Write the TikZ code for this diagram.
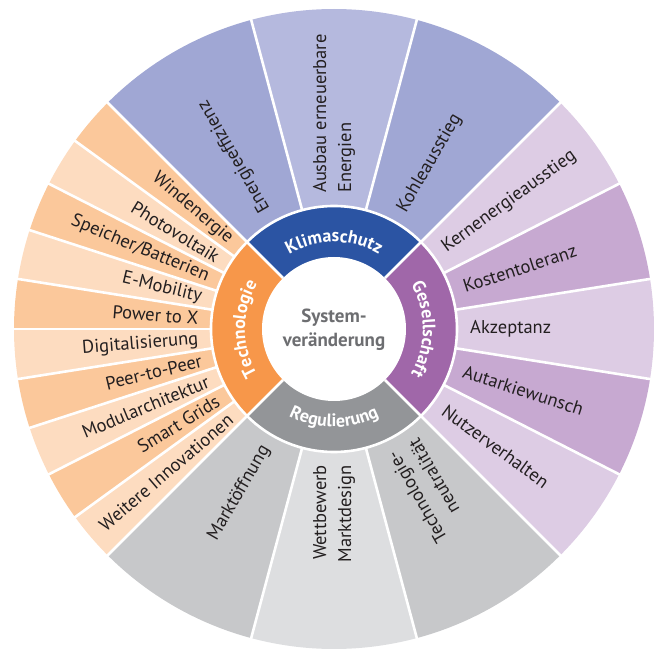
\documentclass[tikz,border=0pt]{standalone}
\usepackage{fontspec}
\setmainfont{PT Sans}
\usetikzlibrary{decorations.text}
\definecolor{klimaDark}{HTML}{2B54A3}
\definecolor{klimaMid}{HTML}{A0A7D4}
\definecolor{klimaLight}{HTML}{B5B9DE}
\definecolor{techDark}{HTML}{F7974A}
\definecolor{techMid}{HTML}{FBC89B}
\definecolor{techLight}{HTML}{FDDCC0}
\definecolor{gesDark}{HTML}{A067A9}
\definecolor{gesMid}{HTML}{C7A9D1}
\definecolor{gesLight}{HTML}{DDCCE4}
\definecolor{regDark}{HTML}{939598}
\definecolor{regMid}{HTML}{C7C8CA}
\definecolor{regLight}{HTML}{DDDEE0}
\definecolor{labeltext}{HTML}{231F20}
\definecolor{sysgray}{HTML}{6D6E71}
\newcommand\catfont{\fontsize{18}{20}\selectfont\bfseries}
\begin{document}
\begin{tikzpicture}[x=1pt,y=1pt,
  sep/.style={white, line width=2.6pt},
  lbl/.style={font=\fontsize{18.5}{25}\selectfont, text=labeltext, inner sep=0pt},
  catlbl/.style={decorate, decoration={text along path, text align=center, text color=white,
     text={|\catfont|#1}}}
]
\def\R{320}
\def\rc{123}
\def\rw{72}
\def\rt{136}
\useasboundingbox (-334,-321) rectangle (327,329);
% ---- outer sectors
\foreach \i in {0,...,9}{
  \pgfmathsetmacro\aa{135+9*\i}
  \pgfmathsetmacro\ab{144+9*\i}
  \pgfmathtruncatemacro\odd{mod(\i,2)}
  \ifnum\odd=0 \def\col{techMid}\else\def\col{techLight}\fi
  \fill[\col] (0,0) -- (\aa:\R) arc[start angle=\aa, end angle=\ab, radius=\R] -- cycle;
}
\fill[klimaMid] (0,0) -- (105:\R) arc[start angle=105, end angle=135, radius=\R] -- cycle;
\fill[klimaLight] (0,0) -- (75:\R) arc[start angle=75, end angle=105, radius=\R] -- cycle;
\fill[klimaMid] (0,0) -- (45:\R) arc[start angle=45, end angle=75, radius=\R] -- cycle;
\fill[gesLight] (0,0) -- (27:\R) arc[start angle=27, end angle=45, radius=\R] -- cycle;
\fill[gesMid] (0,0) -- (9:\R) arc[start angle=9, end angle=27, radius=\R] -- cycle;
\fill[gesLight] (0,0) -- (-9:\R) arc[start angle=-9, end angle=9, radius=\R] -- cycle;
\fill[gesMid] (0,0) -- (-27:\R) arc[start angle=-27, end angle=-9, radius=\R] -- cycle;
\fill[gesLight] (0,0) -- (-45:\R) arc[start angle=-45, end angle=-27, radius=\R] -- cycle;
\fill[regMid] (0,0) -- (225:\R) arc[start angle=225, end angle=255, radius=\R] -- cycle;
\fill[regLight] (0,0) -- (255:\R) arc[start angle=255, end angle=285, radius=\R] -- cycle;
\fill[regMid] (0,0) -- (285:\R) arc[start angle=285, end angle=315, radius=\R] -- cycle;
% ---- category ring
\fill[klimaDark] (0,0) -- (45:\rc) arc[start angle=45, end angle=135, radius=\rc] -- cycle;
\fill[techDark] (0,0) -- (135:\rc) arc[start angle=135, end angle=225, radius=\rc] -- cycle;
\fill[regDark] (0,0) -- (225:\rc) arc[start angle=225, end angle=315, radius=\rc] -- cycle;
\fill[gesDark] (0,0) -- (-45:\rc) arc[start angle=-45, end angle=45, radius=\rc] -- cycle;
% ---- separators
\foreach \a in {144,153,...,216, 105,75, 27,9,-9,-27, 255,285}
  \draw[sep] (\a:\rc) -- (\a:\R+2);
\foreach \a in {45,135,225,315}
  \draw[sep] (\a:\rw) -- (\a:\R+2);
\draw[sep] (0,0) circle[radius=\rc];
\fill[white] (0,0) circle[radius=\rw];
% ---- centre
\node[font=\fontsize{19}{24}\selectfont\bfseries, text=sysgray, align=center] (sys) at (0,-1) {System-\\veränderung};
% ---- category labels
\path[catlbl=Klimaschutz] (135:87) arc[start angle=135, end angle=45, radius=87];
\path[catlbl=Technologie] (225:89) arc[start angle=225, end angle=135, radius=89];
\path[catlbl=Gesellschaft] (45:89) arc[start angle=45, end angle=-45, radius=89];
\path[catlbl=Regulierung] (225:98) arc[start angle=225, end angle=315, radius=98];
% ---- Technologie labels
\foreach \t [count=\i from 0] in {Windenergie, Photovoltaik, Speicher/Batterien, E-Mobility, Power to X, Digitalisierung, Peer-to-Peer, Modularchitektur, Smart Grids, Weitere Innovationen}{
  \pgfmathsetmacro\m{139.5+9*\i}
  \node[lbl, anchor=east, rotate=\m-180] (tech\i) at (\m:\rt) {\t};
}
% ---- Gesellschaft labels
\foreach \t/\m [count=\i] in {Kernenergieausstieg/36, Kostentoleranz/18, Akzeptanz/0, Autarkiewunsch/-18, Nutzerverhalten/-36}{
  \node[lbl, anchor=west, rotate=\m] (ges\i) at (\m:\rt) {\t};
}
% ---- Klimaschutz labels
\node[lbl, anchor=west, rotate=120] (k1) at (120:\rt) {Energieeffizienz};
\node[lbl, anchor=west, rotate=90, align=left] (k2) at (90:\rt) {Ausbau erneuerbare\\Energien};
\node[lbl, anchor=west, rotate=60] (k3) at (60:\rt) {Kohleausstieg};
% ---- Regulierung labels
\node[lbl, anchor=east, rotate=60] (r1) at (240:\rt) {Marktöffnung};
\node[lbl, anchor=east, rotate=90, align=right] (r2) at (270:\rt) {Wettbewerb\\Marktdesign};
\node[lbl, anchor=east, rotate=120, align=right] (r3) at (300:\rt) {Technologie-\\neutralität};
\end{tikzpicture}
\end{document}
